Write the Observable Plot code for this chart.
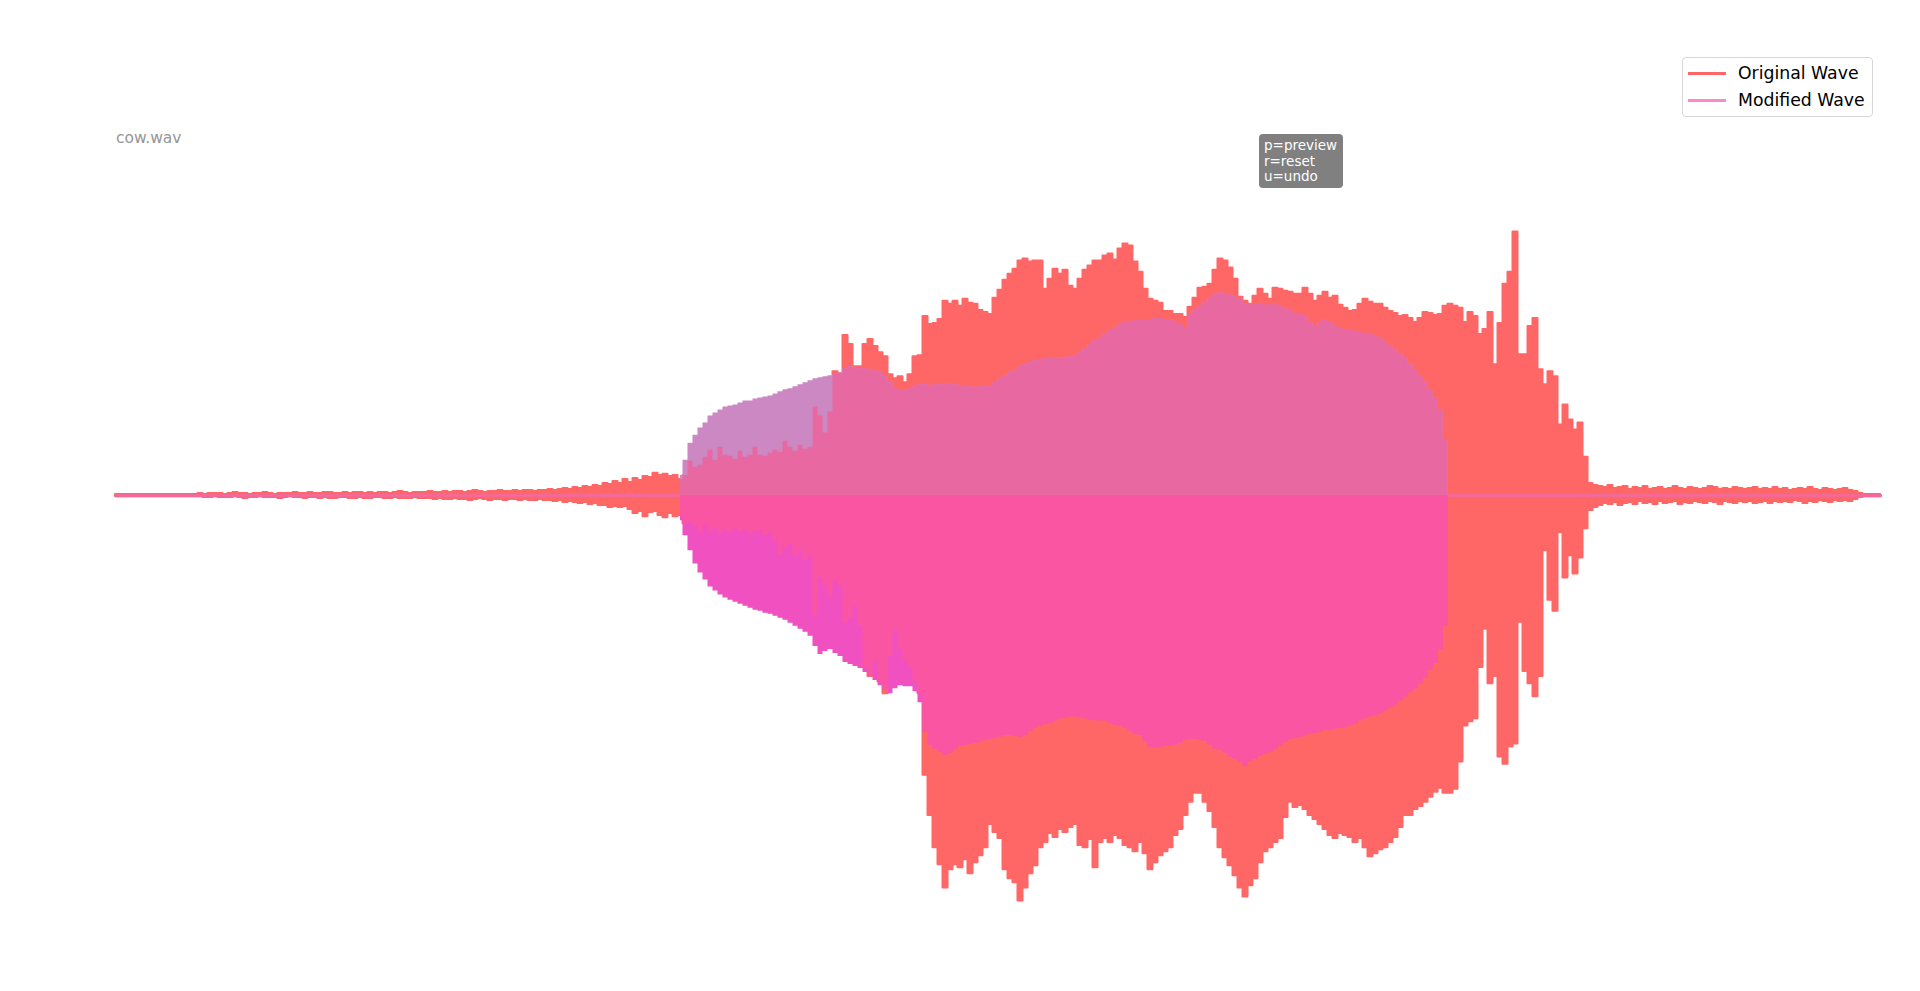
<!DOCTYPE html>
<html>
<head>
<meta charset="utf-8">
<script src="https://cdn.jsdelivr.net/npm/d3@7"></script>
<script src="https://cdn.jsdelivr.net/npm/@observablehq/plot@0.6"></script>
<style>
  html, body { margin: 0; padding: 0; background: #fff; }
  #wrap { position: relative; width: 1920px; height: 991px; overflow: hidden; font-family: "DejaVu Sans", sans-serif; }
  #chart { position: absolute; left: 0; top: 0; }
  .abs { position: absolute; white-space: nowrap; }
  #title { left: 116px; top: 131px; font-size: 15.5px; line-height: 1; color: #969696; }
  #help { left: 1259px; top: 134px; width: 74px; height: 46px; padding: 4px 5px; background: #808080; border-radius: 4px;
          color: #fff; font-size: 13.5px; line-height: 15.5px; }
  #legend { left: 1682px; top: 57px; width: 189px; height: 58px; border: 1px solid #d6d6d6; border-radius: 4px; background: rgba(255,255,255,0.8); }
  .sw { position: absolute; left: 5px; width: 38px; height: 3px; }
  .lt { position: absolute; left: 55px; font-size: 17.3px; line-height: 1; color: #000; }
</style>
</head>
<body>
<div id="wrap">
  <div id="chart"></div>
  <div id="title" class="abs"></div>
  <div id="help" class="abs"></div>
  <div id="legend" class="abs"></div>
</div>
<script>
// ---- data (envelope of each wave per 5 ms frame; amplitude stored in units of 50 int16 counts) ----
const fileName = "cow.wav";
const helpLines = ["p=preview", "r=reset", "u=undo"];
const seriesNames = ["Original Wave", "Modified Wave"];
const FRAME_SEC = 0.005;
const DURATION = 1.767;
const AMP_UNIT = 50;
const MOD_START = 113;

const origHi = [
  1,1,1,1,1,1,1,1,1,1,1,1,1,1,1,1,1,
  2,1,2,2,2,1,2,3,2,2,1,2,2,3,2,1,2,2,2,3,2,
  2,3,2,2,3,3,2,2,3,2,3,3,2,3,2,3,3,2,3,4,3,2,3,3,
  3,4,3,3,4,3,4,4,3,4,5,4,3,4,4,5,4,4,5,4,5,5,4,5,
  5,6,5,6,7,6,8,7,9,8,10,9,12,11,14,12,16,13,17,15,19,18,22,20,21,19,20,
  16,20,34,28,30,38,45,35,48,40,
  39,36,44,38,40,48,40,39,42,45,
  43,54,48,44,50,46,48,88,79,62,
  83,123,121,159,150,128,128,150,155,148,
  142,138,120,116,118,112,120,138,139,178,
  170,171,175,193,190,193,188,195,191,190,
  184,182,180,196,204,214,220,225,233,235,
  232,233,233,205,215,225,220,224,208,205,
  215,224,228,233,233,238,240,234,245,250,
  248,232,222,205,195,193,191,183,183,180,
  180,177,187,196,206,207,210,224,235,233,
  226,215,197,193,190,198,205,200,195,206,
  205,203,202,200,200,206,200,193,198,202,
  196,198,189,186,183,184,190,195,192,190,
  190,186,183,181,178,179,176,172,176,182,
  181,179,180,188,190,188,186,172,182,178,
  160,165,182,130,171,210,222,262,140,140,
  168,176,125,110,123,118,70,90,75,65,
  72,38,12,10,
  9,8,10,7,8,9,6,8,7,9,
  6,7,8,6,7,9,7,6,8,7,
  6,7,9,8,6,7,6,8,7,6,
  7,8,6,7,6,8,6,7,5,6,
  7,6,8,6,5,7,6,5,6,7,
  5,4,2,1,1,1,1
];
const origLo = [
  1,1,1,1,1,1,1,1,1,1,1,1,1,1,1,1,1,
  1,2,2,1,2,2,2,1,2,3,2,2,1,2,2,2,3,2,1,2,2,
  3,2,2,3,2,3,3,2,2,3,3,2,3,3,2,2,3,3,2,3,3,3,2,3,
  3,3,4,3,4,4,3,4,4,5,4,3,4,5,4,4,5,4,4,5,4,5,5,4,
  5,5,6,5,7,6,7,8,7,9,8,10,10,12,11,12,11,14,18,16,21,17,16,20,22,18,21,
  20,28,27,30,37,30,36,32,38,35,
  37,33,36,34,38,36,35,40,38,45,
  59,52,48,60,55,64,60,120,82,90,
  100,85,90,126,122,110,130,171,180,165,
  185,197,160,135,153,165,171,185,197,278,
  318,350,367,390,372,367,370,362,376,365,
  358,350,327,335,341,372,381,385,403,390,
  376,368,350,345,336,340,332,335,330,327,
  348,350,342,370,345,341,345,338,341,348,
  350,354,345,356,372,365,358,354,350,338,
  332,318,305,296,296,305,314,330,350,360,
  368,378,390,399,388,381,365,354,350,345,
  341,320,305,310,308,312,318,322,327,332,
  338,341,336,338,340,345,341,350,359,356,
  352,350,345,340,330,318,318,312,309,305,
  300,295,291,296,296,292,265,229,225,222,
  171,133,187,180,260,267,250,247,126,175,
  187,200,180,55,104,115,37,82,60,78,
  62,33,15,12,
  10,8,9,7,10,8,7,9,6,8,
  7,9,6,8,7,6,9,7,8,6,
  7,8,6,7,9,6,7,8,6,7,
  6,8,7,6,8,6,7,6,7,5,
  6,8,6,7,5,6,7,5,6,5,
  6,4,2,1,1,1,1
];
const modHi = [
  20,35,52,60,67,72,79,82,85,88,
  89,90,92,94,94,96,97,98,99,101,
  103,105,106,108,110,112,114,116,117,118,
  119,121,122,126,128,127,126,126,125,124,
  122,118,112,106,105,104,106,108,110,110,
  109,110,110,111,110,110,109,108,108,107,
  108,108,109,112,116,119,122,125,128,130,
  132,134,135,136,136,137,137,137,138,139,
  142,146,150,154,157,161,164,167,170,172,
  173,174,175,175,175,176,176,175,175,172,
  170,167,180,185,188,192,196,200,202,200,
  199,197,195,190,189,190,190,189,189,190,
  188,186,184,181,180,178,172,168,172,175,
  172,168,166,165,164,163,162,161,160,159,
  156,152,149,145,141,136,131,125,119,113,
  105,97,85,55,0
];
const modLo = [
  25,40,55,68,77,84,91,95,99,102,
  104,106,108,110,112,114,115,117,118,120,
  122,124,127,130,133,136,140,150,158,155,
  153,157,160,166,168,170,172,176,180,184,
  189,193,197,192,189,190,190,195,206,235,
  248,252,255,258,256,252,249,248,247,246,
  245,243,242,241,240,238,238,239,240,238,
  234,231,229,227,226,224,222,221,220,220,
  221,222,223,224,224,224,226,228,229,231,
  234,237,238,244,250,251,250,249,249,248,
  246,243,242,242,243,244,248,252,253,256,
  260,262,265,269,264,262,259,257,255,252,
  249,245,242,241,240,238,237,236,235,233,
  233,232,231,230,229,227,224,222,220,219,
  217,214,211,208,204,200,196,192,187,182,
  174,167,153,130,0
];

// ---- colours ----
const C_ORIG = "#ff6666";
const C_MOD_LEGEND = "#ff88cc";
const C_MOD_UP = "#cc88c2";
const C_OVL_UP = "#e868a2";
const C_MOD_DN = "#f050c0";
const C_OVL_DN = "#f955a3";
const C_ZERO = "#ef6aa6";

// ---- tables ----
const orig = origHi.map((h, i) => ({ t: i * FRAME_SEC, hi: h * AMP_UNIT, lo: -origLo[i] * AMP_UNIT }));
const mod = modHi.map((h, k) => {
  const i = k + MOD_START;
  return {
    t: i * FRAME_SEC,
    hi: h * AMP_UNIT,
    lo: -modLo[k] * AMP_UNIT,
    ovHi: Math.min(h, origHi[i]) * AMP_UNIT,
    ovLo: -Math.min(modLo[k], origLo[i]) * AMP_UNIT
  };
});
const peak = d3.max([...origHi, ...origLo, ...modHi, ...modLo]) * AMP_UNIT;
const yLim = 1.1 * peak;

const chart = Plot.plot({
  width: 1920,
  height: 991,
  marginLeft: 115,
  marginRight: 38,
  marginTop: 49,
  marginBottom: 50,
  x: { domain: [0, DURATION], axis: null },
  y: { domain: [-yLim, yLim], axis: null },
  marks: [
    Plot.ruleY([0], { stroke: "#bfe3f0", strokeWidth: 1, dy: 2 }),
    Plot.areaY(orig, { x: "t", y1: "lo", y2: "hi", fill: C_ORIG, stroke: C_ORIG, strokeWidth: 2, strokeLinejoin: "round", curve: "step" }),
    Plot.ruleY([0], { stroke: C_ZERO, strokeWidth: 2.5 }),
    Plot.areaY(mod, { x: "t", y1: 0, y2: "hi", fill: C_MOD_UP, curve: "step" }),
    Plot.areaY(mod, { x: "t", y1: 0, y2: "ovHi", fill: C_OVL_UP, curve: "step" }),
    Plot.areaY(mod, { x: "t", y1: "lo", y2: 0, fill: C_MOD_DN, curve: "step" }),
    Plot.areaY(mod, { x: "t", y1: "ovLo", y2: 0, fill: C_OVL_DN, curve: "step" })
  ]
});
document.getElementById("chart").appendChild(chart);

// ---- text overlays ----
document.getElementById("title").textContent = fileName;
document.getElementById("help").innerHTML = helpLines.map(s => `<div>${s}</div>`).join("");
const legend = document.getElementById("legend");
[[seriesNames[0], C_ORIG], [seriesNames[1], C_MOD_LEGEND]].forEach(([name, col], j) => {
  const sw = document.createElement("div");
  sw.className = "sw";
  sw.style.top = (14 + j * 27) + "px";
  sw.style.background = col;
  legend.appendChild(sw);
  const lt = document.createElement("div");
  lt.className = "lt";
  lt.style.top = (7 + j * 27) + "px";
  lt.textContent = name;
  legend.appendChild(lt);
});
</script>
</body>
</html>
